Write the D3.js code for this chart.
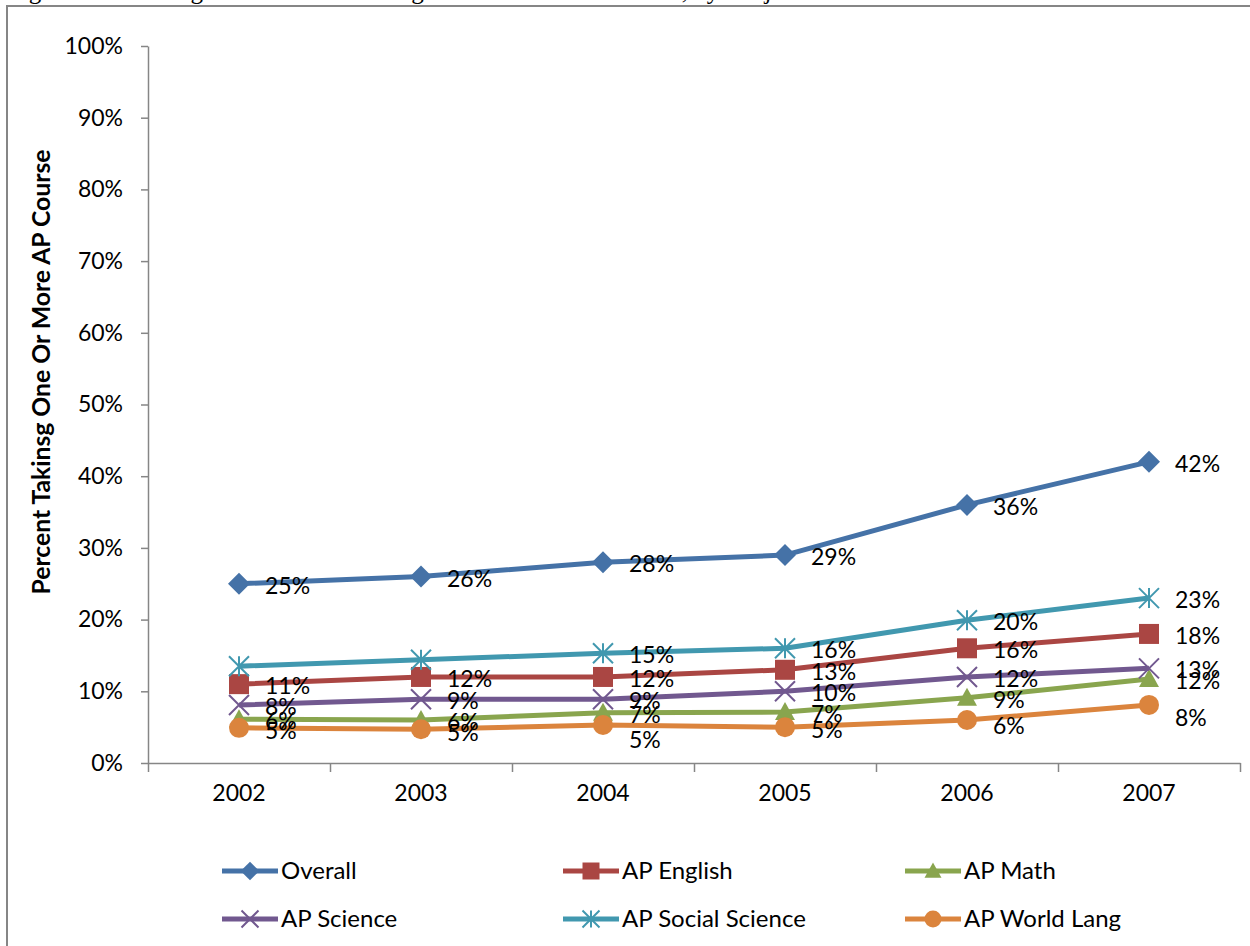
<!DOCTYPE html>
<html>
<head>
<meta charset="utf-8">
<script src="https://cdn.jsdelivr.net/npm/d3@7"></script>
<style>
  body { margin: 0; background: #fff; }
  svg text { font-family: Lato, "Open Sans", sans-serif; fill: #000; }
</style>
</head>
<body>
<script>
// chart data
var years = ["2002", "2003", "2004", "2005", "2006", "2007"];
var seriesNames = ["Overall", "AP English", "AP Math", "AP Science", "AP Social Science", "AP World Lang"];
var overall = [0.25, 0.26, 0.28, 0.29, 0.36, 0.42];
var apEnglish = [0.11, 0.12, 0.12, 0.13, 0.16, 0.18];
var apMath = [0.061, 0.06, 0.07, 0.071, 0.091, 0.117];
var apScience = [0.081, 0.089, 0.089, 0.10, 0.12, 0.132];
var apSocial = [0.135, 0.144, 0.153, 0.16, 0.199, 0.23];
var apWorldLang = [0.049, 0.047, 0.053, 0.05, 0.06, 0.081];
var yTicks = [0, 0.1, 0.2, 0.3, 0.4, 0.5, 0.6, 0.7, 0.8, 0.9, 1.0];
var yTitle = "Percent Takinsg One Or More AP Course";
var caption = "Figure 3. Percentage of Graduates Taking One or More AP Courses, by Subject";

// labels that the original leaves out
var hiddenLabels = { "AP Social Science": ["2002", "2003"] };

var colors = ["#4572A7", "#AA4643", "#89A54E", "#71588F", "#4198AF", "#DB843D"];
var markers = ["diamond", "square", "triangle", "x", "star", "circle"];
var allValues = [overall, apEnglish, apMath, apScience, apSocial, apWorldLang];

// some world lang labels sit a bit lower in the original
var labelNudge = { "AP World Lang": [1, 2, 13, 1, 4, 11] };

var series = seriesNames.map(function (name, i) {
    return {
        name: name,
        color: colors[i],
        marker: markers[i],
        values: years.map(function (y, j) { return { year: y, value: allValues[i][j] }; })
    };
});

var width = 1250, height = 946;
var margin = { top: 46, left: 148, right: 1240, bottom: 763 };
var fontSize = "23px";

var svg = d3.select("body").append("svg")
    .attr("width", width)
    .attr("height", height);

// document caption, cut off at the top of the picture
svg.append("text")
    .attr("x", 8)
    .attr("y", -1)
    .style("font-family", "'Liberation Serif', serif")
    .attr("font-size", "25px")
    .text(caption);

// chart frame
svg.append("rect")
    .attr("x", 7).attr("y", 6)
    .attr("width", 1300).attr("height", 1000)
    .attr("fill", "none")
    .attr("stroke", "#868686")
    .attr("stroke-width", 2);

var xScale = d3.scaleBand()
    .domain(years)
    .range([margin.left, margin.right]);

var yScale = d3.scaleLinear()
    .domain([0, 1])
    .range([margin.bottom, margin.top]);

var cx = function (d) { return xScale(d.year) + xScale.bandwidth() / 2; };

// y axis
var yAxis = d3.axisLeft(yScale)
    .tickValues(yTicks)
    .tickFormat(d3.format(".0%"))
    .tickSize(7)
    .tickSizeOuter(0)
    .tickPadding(18);

svg.append("g")
    .attr("transform", "translate(" + margin.left + ",0)")
    .call(yAxis)
    .call(g => g.select(".domain").attr("stroke", "#868686").attr("stroke-width", 1.5))
    .call(g => g.selectAll(".tick line").attr("stroke", "#868686").attr("stroke-width", 1.5))
    .call(g => g.selectAll(".tick text")
        .attr("font-size", fontSize)
        .style("font-family", "Lato, sans-serif")
        .attr("fill", "#000"));

// x axis: ticks between categories, labels at the middle
var xEdges = d3.scaleLinear().domain([0, years.length]).range([margin.left, margin.right]);
svg.append("g")
    .attr("transform", "translate(0," + margin.bottom + ")")
    .call(d3.axisBottom(xEdges).ticks(years.length).tickFormat("").tickSize(9).tickSizeOuter(0))
    .call(g => g.select(".domain").attr("stroke", "#868686").attr("stroke-width", 1.5))
    .call(g => g.selectAll(".tick line").attr("stroke", "#868686").attr("stroke-width", 1.5));

svg.append("g")
    .attr("transform", "translate(0," + margin.bottom + ")")
    .call(d3.axisBottom(xScale).tickSize(0).tickPadding(22))
    .call(g => g.select(".domain").remove())
    .call(g => g.selectAll(".tick text")
        .attr("font-size", fontSize)
        .style("font-family", "Lato, sans-serif")
        .attr("fill", "#000"));

// y axis title
svg.append("text")
    .attr("transform", "translate(50,372) rotate(-90)")
    .attr("text-anchor", "middle")
    .attr("font-size", "24px")
    .attr("font-weight", "bold")
    .attr("textLength", 445)
    .attr("lengthAdjust", "spacingAndGlyphs")
    .text(yTitle);

// marker shapes
function markerPath(type, s) {
    var h = s / 2;
    if (type == "diamond") return "M0," + (-h) + "L" + h + ",0L0," + h + "L" + (-h) + ",0Z";
    if (type == "square") return "M" + (-h) + "," + (-h) + "h" + s + "v" + s + "h" + (-s) + "Z";
    if (type == "triangle") return "M0," + (-h) + "L" + h + "," + (h * 0.8) + "L" + (-h) + "," + (h * 0.8) + "Z";
    if (type == "x") return "M" + (-h) + "," + (-h) + "L" + h + "," + h + "M" + (-h) + "," + h + "L" + h + "," + (-h);
    if (type == "star") return "M" + (-h) + "," + (-h) + "L" + h + "," + h + "M" + (-h) + "," + h + "L" + h + "," + (-h) + "M0," + (-h) + "L0," + h;
    return d3.symbol().type(d3.symbolCircle).size(Math.PI * h * h)();
}
function markerSize(type) {
    if (type == "diamond") return 22;
    return 20;
}
function drawMarker(g, type, color, s) {
    var open = (type == "x" || type == "star");
    g.append("path")
        .attr("d", markerPath(type, s))
        .attr("fill", open ? "none" : color)
        .attr("stroke", open ? color : "none")
        .attr("stroke-width", open ? 2 : 0);
}

var line = d3.line()
    .x(cx)
    .y(d => yScale(d.value));

// lines and markers
var groups = svg.selectAll("g.series")
    .data(series)
    .enter()
    .append("g")
    .attr("class", "series");

groups.append("path")
    .attr("d", d => line(d.values))
    .attr("fill", "none")
    .attr("stroke", d => d.color)
    .attr("stroke-width", 5)
    .attr("stroke-linejoin", "round");

groups.each(function (s) {
    var g = d3.select(this);
    s.values.forEach(function (d) {
        var m = g.append("g")
            .attr("transform", "translate(" + cx(d) + "," + yScale(d.value) + ")");
        drawMarker(m, s.marker, s.color, markerSize(s.marker));
    });
});

// data labels, on top of everything
var fmt = d3.format(".0%");
series.forEach(function (s) {
    var hide = hiddenLabels[s.name] || [];
    var nudge = labelNudge[s.name] || [];
    s.values.forEach(function (d, j) {
        if (hide.indexOf(d.year) >= 0) return;
        svg.append("text")
            .attr("x", cx(d) + 26)
            .attr("y", yScale(d.value) + 2 + (nudge[j] || 0))
            .attr("dy", "0.35em")
            .attr("font-size", fontSize)
            .text(fmt(d.value));
    });
});

// legend
var legendCols = [222, 563, 905];
var legendRows = [871, 919];
series.forEach(function (s, i) {
    var lx = legendCols[i % 3], ly = legendRows[Math.floor(i / 3)];
    var lg = svg.append("g").attr("transform", "translate(" + lx + "," + ly + ")");
    lg.append("line")
        .attr("x1", 0).attr("x2", 56)
        .attr("stroke", s.color)
        .attr("stroke-width", 5);
    var m = lg.append("g").attr("transform", "translate(28,0)");
    drawMarker(m, s.marker, s.color, markerSize(s.marker) * 0.85);
    lg.append("text")
        .attr("x", 59)
        .attr("dy", "0.35em")
        .attr("font-size", "24px")
        .text(s.name);
});
</script>
</body>
</html>
